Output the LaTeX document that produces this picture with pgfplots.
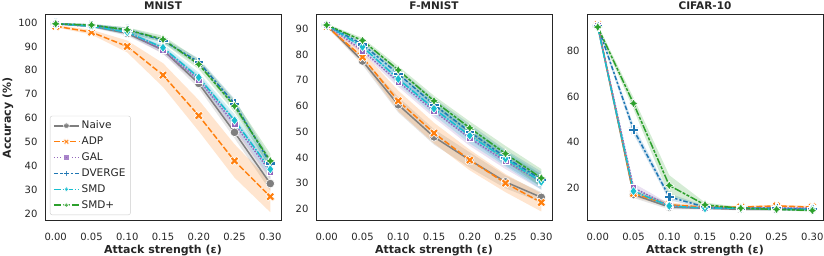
\documentclass[border=0pt]{standalone}
\usepackage{pgfplots}
\pgfplotsset{compat=1.18}
\usepackage{pgfplotstable}
\usepackage{fontspec}
\setmainfont{DejaVu Sans}

\definecolor{cNai}{HTML}{7F7F7F}
\definecolor{cADP}{HTML}{FF7F0E}
\definecolor{cGAL}{HTML}{9467BD}
\definecolor{cDVG}{HTML}{1F77B4}
\definecolor{cSMD}{HTML}{17BECF}
\definecolor{cSMP}{HTML}{2CA02C}
\definecolor{cFrame}{HTML}{262626}

\pgfdeclareplotmark{Xf}{%
 \pgfpathmoveto{\pgfpoint{-0.5\pgfplotmarksize}{-\pgfplotmarksize}}%
 \pgfpathlineto{\pgfpoint{0pt}{-0.5\pgfplotmarksize}}%
 \pgfpathlineto{\pgfpoint{0.5\pgfplotmarksize}{-\pgfplotmarksize}}%
 \pgfpathlineto{\pgfpoint{\pgfplotmarksize}{-0.5\pgfplotmarksize}}%
 \pgfpathlineto{\pgfpoint{0.5\pgfplotmarksize}{0pt}}%
 \pgfpathlineto{\pgfpoint{\pgfplotmarksize}{0.5\pgfplotmarksize}}%
 \pgfpathlineto{\pgfpoint{0.5\pgfplotmarksize}{\pgfplotmarksize}}%
 \pgfpathlineto{\pgfpoint{0pt}{0.5\pgfplotmarksize}}%
 \pgfpathlineto{\pgfpoint{-0.5\pgfplotmarksize}{\pgfplotmarksize}}%
 \pgfpathlineto{\pgfpoint{-\pgfplotmarksize}{0.5\pgfplotmarksize}}%
 \pgfpathlineto{\pgfpoint{-0.5\pgfplotmarksize}{0pt}}%
 \pgfpathlineto{\pgfpoint{-\pgfplotmarksize}{-0.5\pgfplotmarksize}}%
 \pgfpathclose\pgfusepathqfillstroke}
\pgfdeclareplotmark{Pf}{%
 \pgfpathmoveto{\pgfpoint{0.333\pgfplotmarksize}{\pgfplotmarksize}}%
 \pgfpathlineto{\pgfpoint{0.333\pgfplotmarksize}{0.333\pgfplotmarksize}}%
 \pgfpathlineto{\pgfpoint{\pgfplotmarksize}{0.333\pgfplotmarksize}}%
 \pgfpathlineto{\pgfpoint{\pgfplotmarksize}{-0.333\pgfplotmarksize}}%
 \pgfpathlineto{\pgfpoint{0.333\pgfplotmarksize}{-0.333\pgfplotmarksize}}%
 \pgfpathlineto{\pgfpoint{0.333\pgfplotmarksize}{-\pgfplotmarksize}}%
 \pgfpathlineto{\pgfpoint{-0.333\pgfplotmarksize}{-\pgfplotmarksize}}%
 \pgfpathlineto{\pgfpoint{-0.333\pgfplotmarksize}{-0.333\pgfplotmarksize}}%
 \pgfpathlineto{\pgfpoint{-\pgfplotmarksize}{-0.333\pgfplotmarksize}}%
 \pgfpathlineto{\pgfpoint{-\pgfplotmarksize}{0.333\pgfplotmarksize}}%
 \pgfpathlineto{\pgfpoint{-0.333\pgfplotmarksize}{0.333\pgfplotmarksize}}%
 \pgfpathlineto{\pgfpoint{-0.333\pgfplotmarksize}{\pgfplotmarksize}}%
 \pgfpathclose\pgfusepathqfillstroke}
\pgfdeclareplotmark{St4}{%
 \pgfpathmoveto{\pgfpoint{0pt}{\pgfplotmarksize}}%
 \pgfpathlineto{\pgfpoint{0.354\pgfplotmarksize}{0.354\pgfplotmarksize}}%
 \pgfpathlineto{\pgfpoint{\pgfplotmarksize}{0pt}}%
 \pgfpathlineto{\pgfpoint{0.354\pgfplotmarksize}{-0.354\pgfplotmarksize}}%
 \pgfpathlineto{\pgfpoint{0pt}{-\pgfplotmarksize}}%
 \pgfpathlineto{\pgfpoint{-0.354\pgfplotmarksize}{-0.354\pgfplotmarksize}}%
 \pgfpathlineto{\pgfpoint{-\pgfplotmarksize}{0pt}}%
 \pgfpathlineto{\pgfpoint{-0.354\pgfplotmarksize}{0.354\pgfplotmarksize}}%
 \pgfpathclose\pgfusepathqfillstroke}

% mean accuracy: Naive(n) ADP(a) GAL(g) DVERGE(d) SMD(s) SMD+(p)
\pgfplotstableread{
x    n    a    g    d    s    p
0.00 99.5 98.5 99.5 99.5 99.5 99.5
0.05 98.5 96.0 98.5 99.0 98.5 99.0
0.10 95.5 90.0 96.0 97.0 96.0 97.0
0.15 88.5 78.0 88.5 92.5 89.5 93.0
0.20 74.5 61.0 76.0 83.5 77.0 82.5
0.25 54.0 42.0 57.5 66.0 59.0 65.0
0.30 32.5 27.0 37.5 41.0 38.5 42.0
}\tabMNIST
% confidence bands: upper edge forward, lower edge backward
\pgfplotstableread{
x    n    a    g    d    s    p
0.00 99.8 99.0 99.8 99.8 99.8 99.8
0.05 99.0 97.0 99.0 99.5 99.0 99.5
0.10 96.5 92.5 97.0 98.0 97.0 98.0
0.15 90.0 83.0 90.0 93.5 91.0 94.5
0.20 76.5 67.5 78.0 85.0 79.0 84.5
0.25 56.5 49.0 60.0 68.0 61.5 67.5
0.30 35.5 33.5 40.5 43.0 41.5 45.0
0.30 29.5 20.5 34.5 39.0 35.5 39.0
0.25 51.5 35.0 55.0 64.0 56.5 62.5
0.20 72.5 54.5 74.0 82.0 75.0 80.5
0.15 87.0 73.0 87.0 91.5 88.0 91.5
0.10 94.5 87.5 95.0 96.0 95.0 96.0
0.05 98.0 95.0 98.0 98.5 98.0 98.5
0.00 99.2 98.0 99.2 99.2 99.2 99.2
}\bandMNIST
\pgfplotstableread{
x    n    a    g    d    s    p
0.00 91.5 91.0 91.5 91.5 91.5 91.5
0.05 77.5 79.0 81.5 84.0 83.0 85.5
0.10 60.5 62.0 69.5 72.5 70.5 74.0
0.15 48.0 49.5 58.0 60.5 59.0 62.0
0.20 39.0 39.0 47.5 50.0 48.5 51.5
0.25 30.5 30.0 38.5 40.0 39.5 41.5
0.30 24.5 22.5 30.5 31.5 30.5 32.0
}\tabFMNIST
\pgfplotstableread{
x    n    a    g    d    s    p
0.00 92.0 91.5 92.0 92.0 92.0 92.0
0.05 79.0 81.0 82.5 85.0 84.0 86.5
0.10 63.5 66.0 71.5 74.5 72.5 75.5
0.15 51.0 53.5 60.5 63.0 61.5 64.0
0.20 42.0 43.0 50.5 53.0 51.5 54.0
0.25 33.0 33.5 41.5 43.0 42.5 44.5
0.30 26.5 26.0 33.5 34.5 33.5 35.5
0.30 22.5 19.0 27.5 28.5 27.5 28.5
0.25 28.0 26.5 35.5 37.0 36.5 38.5
0.20 36.0 35.0 44.5 47.0 45.5 49.0
0.15 45.0 45.5 55.5 58.0 56.5 60.0
0.10 57.5 58.0 67.5 70.5 68.5 72.5
0.05 76.0 77.0 80.5 83.0 82.0 84.5
0.00 91.0 90.5 91.0 91.0 91.0 91.0
}\bandFMNIST
\pgfplotstableread{
x    n    a    g    d    s    p
0.00 91.0 91.5 91.0 91.0 90.5 90.5
0.05 17.0 17.5 20.0 45.5 18.5 57.0
0.10 11.5 12.5 12.0 16.0 12.0 21.0
0.15 11.0 11.5 11.0 11.5 11.0 12.5
0.20 10.5 11.5 11.0 11.0 11.0 11.0
0.25 10.5 12.0 11.0 11.0 10.5 10.5
0.30 10.5 11.5 11.0 10.5 10.5 10.0
}\tabCIFAR
\pgfplotstableread{
x    n    a    g    d    s    p
0.00 92.0 92.5 92.0 92.0 91.5 91.5
0.05 18.5 19.0 22.0 47.5 20.0 59.5
0.10 12.5 13.5 13.0 17.5 13.0 25.5
0.15 11.5 12.0 11.5 12.0 11.5 13.5
0.20 11.0 12.0 11.5 11.5 11.5 11.5
0.25 11.0 12.5 11.5 11.5 11.0 11.0
0.30 11.0 12.0 11.5 11.0 11.0 10.5
0.30 10.0 11.0 10.5 10.0 10.0 9.5
0.25 10.0 11.5 10.5 10.5 10.0 10.0
0.20 10.0 11.0 10.5 10.5 10.5 10.5
0.15 10.5 11.0 10.5 11.0 10.5 11.5
0.10 10.5 11.5 11.0 14.5 11.0 16.5
0.05 15.5 16.0 18.0 43.5 17.0 54.5
0.00 90.0 90.5 90.0 90.0 89.5 89.5
}\bandCIFAR

\pgfplotsset{
 bnd/.style={draw=none, fill=#1, fill opacity=0.2, mark=none, forget plot},
 mk/.style={mark options={solid, fill=#1, draw=white, line width=0.6pt}},
 sNai/.style={cNai, line width=1.5pt, solid, mark=*, mark size=4.3pt, mk=cNai},
 sADP/.style={cADP, line width=1.5pt, dash pattern=on 6pt off 2.25pt, mark=Xf, mark size=4.4pt, mk=cADP},
 sGAL/.style={cGAL, line width=1.5pt, dash pattern=on 1.5pt off 1.5pt, mark=square*, mark size=3.3pt, mk=cGAL},
 sDVG/.style={cDVG, line width=1.5pt, dash pattern=on 4.5pt off 1.9pt on 2.25pt off 1.9pt, mark=Pf, mark size=4.9pt, mk=cDVG},
 sSMD/.style={cSMD, line width=1.5pt, dash pattern=on 7.5pt off 1.5pt on 1.5pt off 1.5pt, mark=diamond*, mark size=4.7pt, mk=cSMD},
 sSMP/.style={cSMP, line width=1.5pt, dash pattern=on 7.5pt off 1.5pt on 3pt off 1.5pt on 3pt off 1.5pt, mark=St4, mark size=4.7pt, mk=cSMP},
 myax/.style={
  scale only axis, width=236pt, height=206pt,
  xmin=-0.015, xmax=0.315,
  xtick={0,0.05,0.1,0.15,0.2,0.25,0.3},
  xticklabels={0.00,0.05,0.10,0.15,0.20,0.25,0.30},
  major tick length=0pt,
  axis line style={cFrame, line width=1pt},
  tick label style={font=\fontsize{10}{12}\selectfont, text=cFrame},
  /pgf/number format/assume math mode=true,
  xticklabel style={yshift=-8.5pt},
  yticklabel style={xshift=-4pt},
  xlabel={\bfseries Attack strength (ε)},
  xlabel style={font=\fontsize{11}{13}\selectfont, text=cFrame, at={(0.5,0)}, anchor=center, yshift=-30pt},
  title style={font=\fontsize{10.5}{12}\selectfont\bfseries, text=cFrame, at={(0.5,1)}, anchor=center, yshift=3.5pt},
 },
}

\begin{document}
\begin{tikzpicture}
\useasboundingbox (0pt,0pt) rectangle (824pt,256pt);
\begin{axis}[myax, at={(45pt,35pt)}, anchor=south west,
  title={MNIST}, ymin=16.8, ymax=103.2, ytick={20,30,...,100},
  ylabel={\bfseries Accuracy (\%)},
  ylabel style={font=\fontsize{11}{13}\selectfont, text=cFrame, at={(-0.157,0.5)}, anchor=center},
  legend style={at={(0.021,0.029)}, anchor=south west, draw=black!20, rounded corners=2pt,
     fill=white, fill opacity=0.8, text opacity=1, font=\fontsize{10.5}{12}\selectfont,
     row sep=2.6pt, inner sep=3pt, text=cFrame},
  legend cell align=left,
  legend image code/.code={\draw[mark repeat=2,mark phase=2, mark size=2.9pt] plot coordinates {(0pt,0pt)(12.5pt,0pt)(25pt,0pt)};},
  ]
\addplot[bnd=cNai] table[x=x,y=n]{\bandMNIST};
\addplot[bnd=cADP] table[x=x,y=a]{\bandMNIST};
\addplot[bnd=cGAL] table[x=x,y=g]{\bandMNIST};
\addplot[bnd=cDVG] table[x=x,y=d]{\bandMNIST};
\addplot[bnd=cSMD] table[x=x,y=s]{\bandMNIST};
\addplot[bnd=cSMP] table[x=x,y=p]{\bandMNIST};
\addplot[sNai] table[x=x,y=n]{\tabMNIST};
\addplot[sADP] table[x=x,y=a]{\tabMNIST};
\addplot[sGAL] table[x=x,y=g]{\tabMNIST};
\addplot[sDVG] table[x=x,y=d]{\tabMNIST};
\addplot[sSMD] table[x=x,y=s]{\tabMNIST};
\addplot[sSMP] table[x=x,y=p]{\tabMNIST};
\legend{Naive,ADP,GAL,DVERGE,SMD,SMD+}
\end{axis}
\begin{axis}[myax, at={(316pt,35pt)}, anchor=south west,
  title={F-MNIST}, ymin=15.3, ymax=95.4, ytick={20,30,...,90}]
\addplot[bnd=cNai] table[x=x,y=n]{\bandFMNIST};
\addplot[bnd=cADP] table[x=x,y=a]{\bandFMNIST};
\addplot[bnd=cGAL] table[x=x,y=g]{\bandFMNIST};
\addplot[bnd=cDVG] table[x=x,y=d]{\bandFMNIST};
\addplot[bnd=cSMD] table[x=x,y=s]{\bandFMNIST};
\addplot[bnd=cSMP] table[x=x,y=p]{\bandFMNIST};
\addplot[sNai] table[x=x,y=n]{\tabFMNIST};
\addplot[sADP] table[x=x,y=a]{\tabFMNIST};
\addplot[sGAL] table[x=x,y=g]{\tabFMNIST};
\addplot[sDVG] table[x=x,y=d]{\tabFMNIST};
\addplot[sSMD] table[x=x,y=s]{\tabFMNIST};
\addplot[sSMP] table[x=x,y=p]{\tabFMNIST};
\end{axis}
\begin{axis}[myax, at={(587pt,35pt)}, anchor=south west,
  title={CIFAR-10}, ymin=5.4, ymax=95.8, ytick={20,40,60,80}]
\addplot[bnd=cNai] table[x=x,y=n]{\bandCIFAR};
\addplot[bnd=cADP] table[x=x,y=a]{\bandCIFAR};
\addplot[bnd=cGAL] table[x=x,y=g]{\bandCIFAR};
\addplot[bnd=cDVG] table[x=x,y=d]{\bandCIFAR};
\addplot[bnd=cSMD] table[x=x,y=s]{\bandCIFAR};
\addplot[bnd=cSMP] table[x=x,y=p]{\bandCIFAR};
\addplot[sNai] table[x=x,y=n]{\tabCIFAR};
\addplot[sADP] table[x=x,y=a]{\tabCIFAR};
\addplot[sGAL] table[x=x,y=g]{\tabCIFAR};
\addplot[sDVG] table[x=x,y=d]{\tabCIFAR};
\addplot[sSMD] table[x=x,y=s]{\tabCIFAR};
\addplot[sSMP] table[x=x,y=p]{\tabCIFAR};
\end{axis}
\end{tikzpicture}
\end{document}
